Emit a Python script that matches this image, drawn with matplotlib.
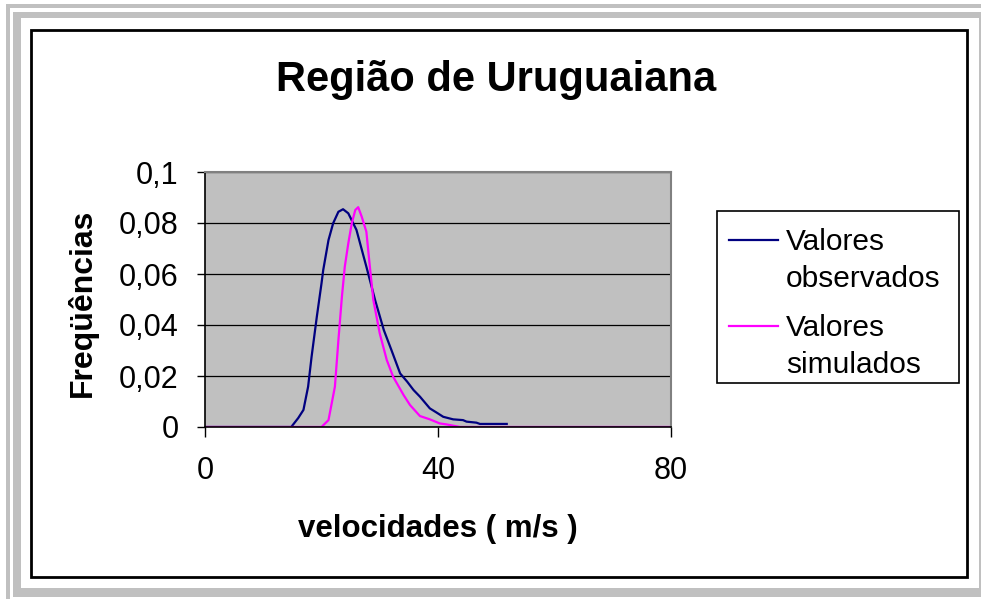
import matplotlib
matplotlib.use("Agg")
import matplotlib.pyplot as plt
from matplotlib.patches import Rectangle
from matplotlib.lines import Line2D

plt.rcParams['font.family'] = ['Liberation Sans', 'DejaVu Sans']

# data
obs_x = [0, 14.8, 16.0, 16.9, 17.7, 18.3, 19.2, 20.0, 20.3, 21.2, 22.0, 22.9, 23.7, 24.6,
         26.0, 27.7, 29.2, 30.7, 32.0, 33.5, 34.7, 35.8, 36.9, 38.6, 39.8, 40.9, 42.6,
         44.3, 44.9, 46.6, 47.2, 51.8]
obs_y = [0, 0, 0.0035, 0.0067, 0.0158, 0.0276, 0.0433, 0.0563, 0.0616, 0.0733, 0.0799,
         0.0844, 0.0854, 0.0838, 0.0773, 0.0629, 0.0498, 0.038, 0.0302, 0.021, 0.0178,
         0.0145, 0.0119, 0.0073, 0.0056, 0.004, 0.003, 0.0027, 0.0021, 0.0017, 0.0012,
         0.0012]
sim_x = [0, 20.0, 21.2, 22.3, 22.9, 23.5, 24.0, 24.6, 25.2, 25.8, 26.3, 26.9, 27.7,
         28.3, 28.9, 30.0, 31.2, 32.3, 34.1, 35.2, 36.9, 38.6, 40.3, 41.5, 43.8, 80]
sim_y = [0, 0, 0.0027, 0.0158, 0.034, 0.051, 0.0629, 0.072, 0.0799, 0.0851, 0.0862,
         0.0825, 0.0766, 0.0629, 0.0498, 0.0367, 0.0263, 0.0197, 0.0125, 0.0086, 0.0043,
         0.003, 0.0014, 0.001, 0, 0]
yticks = [0, 0.02, 0.04, 0.06, 0.08, 0.1]
ytick_labels = ['0', '0,02', '0,04', '0,06', '0,08', '0,1']
xticks = [0, 40, 80]
xtick_labels = ['0', '40', '80']
title = 'Região de Uruguaiana'
xlabel = 'velocidades ( m/s )'
ylabel = 'Freqüências'
series_names = [['Valores', 'observados'], ['Valores', 'simulados']]
series_colors = ['#000080', '#FF00FF']

W, H = 981, 599
fig = plt.figure(figsize=(W / 100, H / 100), dpi=100)


def fx(px):
    return px / W


def fy(py):
    return 1 - py / H


def box(x0, y0, x1, y1, z=-5, **kw):
    # rectangle in figure pixels (origin top-left)
    fig.patches.append(Rectangle((fx(x0), fy(y1)), (x1 - x0) / W, (y1 - y0) / H,
                                 transform=fig.transFigure, zorder=z, **kw))


grey = '#C0C0C0'
box(6, 4, 981, 8, color=grey, lw=0)
box(6, 4, 10, 599, color=grey, lw=0)
box(13, 12, 981, 18, color=grey, lw=0)
box(13, 12, 21, 597, color=grey, lw=0)
box(13, 588, 981, 597, color=grey, lw=0)
box(979, 12, 981, 597, color=grey, lw=0)
box(31, 30, 967, 577, facecolor='white', edgecolor='black', lw=2)

ax = fig.add_axes([fx(205), fy(427), 466 / W, 255 / H])
ax.set_facecolor(grey)
ax.plot(obs_x, obs_y, color=series_colors[0], lw=1.6)
ax.plot(sim_x, sim_y, color=series_colors[1], lw=1.6)
ax.set_xlim(0, 80)
ax.set_ylim(0, 0.1)
ax.set_yticks(yticks)
ax.set_yticklabels(ytick_labels)
ax.set_xticks(xticks)
ax.set_xticklabels(xtick_labels)
ax.yaxis.grid(True, color='black', lw=0.9)
ax.set_axisbelow(True)
ax.tick_params(axis='y', labelsize=22, length=6, width=1, pad=13)
ax.tick_params(axis='x', labelsize=22, length=7, width=1, pad=14)
for s in ['top', 'right']:
    ax.spines[s].set_color('#808080')
    ax.spines[s].set_linewidth(1.5)
for s in ['left', 'bottom']:
    ax.spines[s].set_color('black')
    ax.spines[s].set_linewidth(1.2)

fig.text(fx(496), fy(80), title, fontsize=30, fontweight='bold',
         ha='center', va='center')
fig.text(fx(438), fy(529), xlabel, fontsize=22.5, fontweight='bold',
         ha='center', va='center')
fig.text(fx(82), fy(303), ylabel, fontsize=23, fontweight='bold',
         ha='center', va='center', rotation=90)

# legend box, drawn by hand so the line sits beside the first text row
box(717, 211, 959, 383, z=3, facecolor='white', edgecolor='black', lw=1.2)
for i, (name, col) in enumerate(zip(series_names, series_colors)):
    y_line = 240 + i * 86
    fig.add_artist(Line2D([fx(729), fx(778)], [fy(y_line), fy(y_line)],
                          transform=fig.transFigure, color=col, lw=1.6, zorder=4))
    for j, row in enumerate(name):
        fig.text(fx(786), fy(y_line + 10 + j * 37), row, fontsize=21.5,
                 ha='left', va='baseline', zorder=4)

fig.savefig('out.png', dpi=100)
